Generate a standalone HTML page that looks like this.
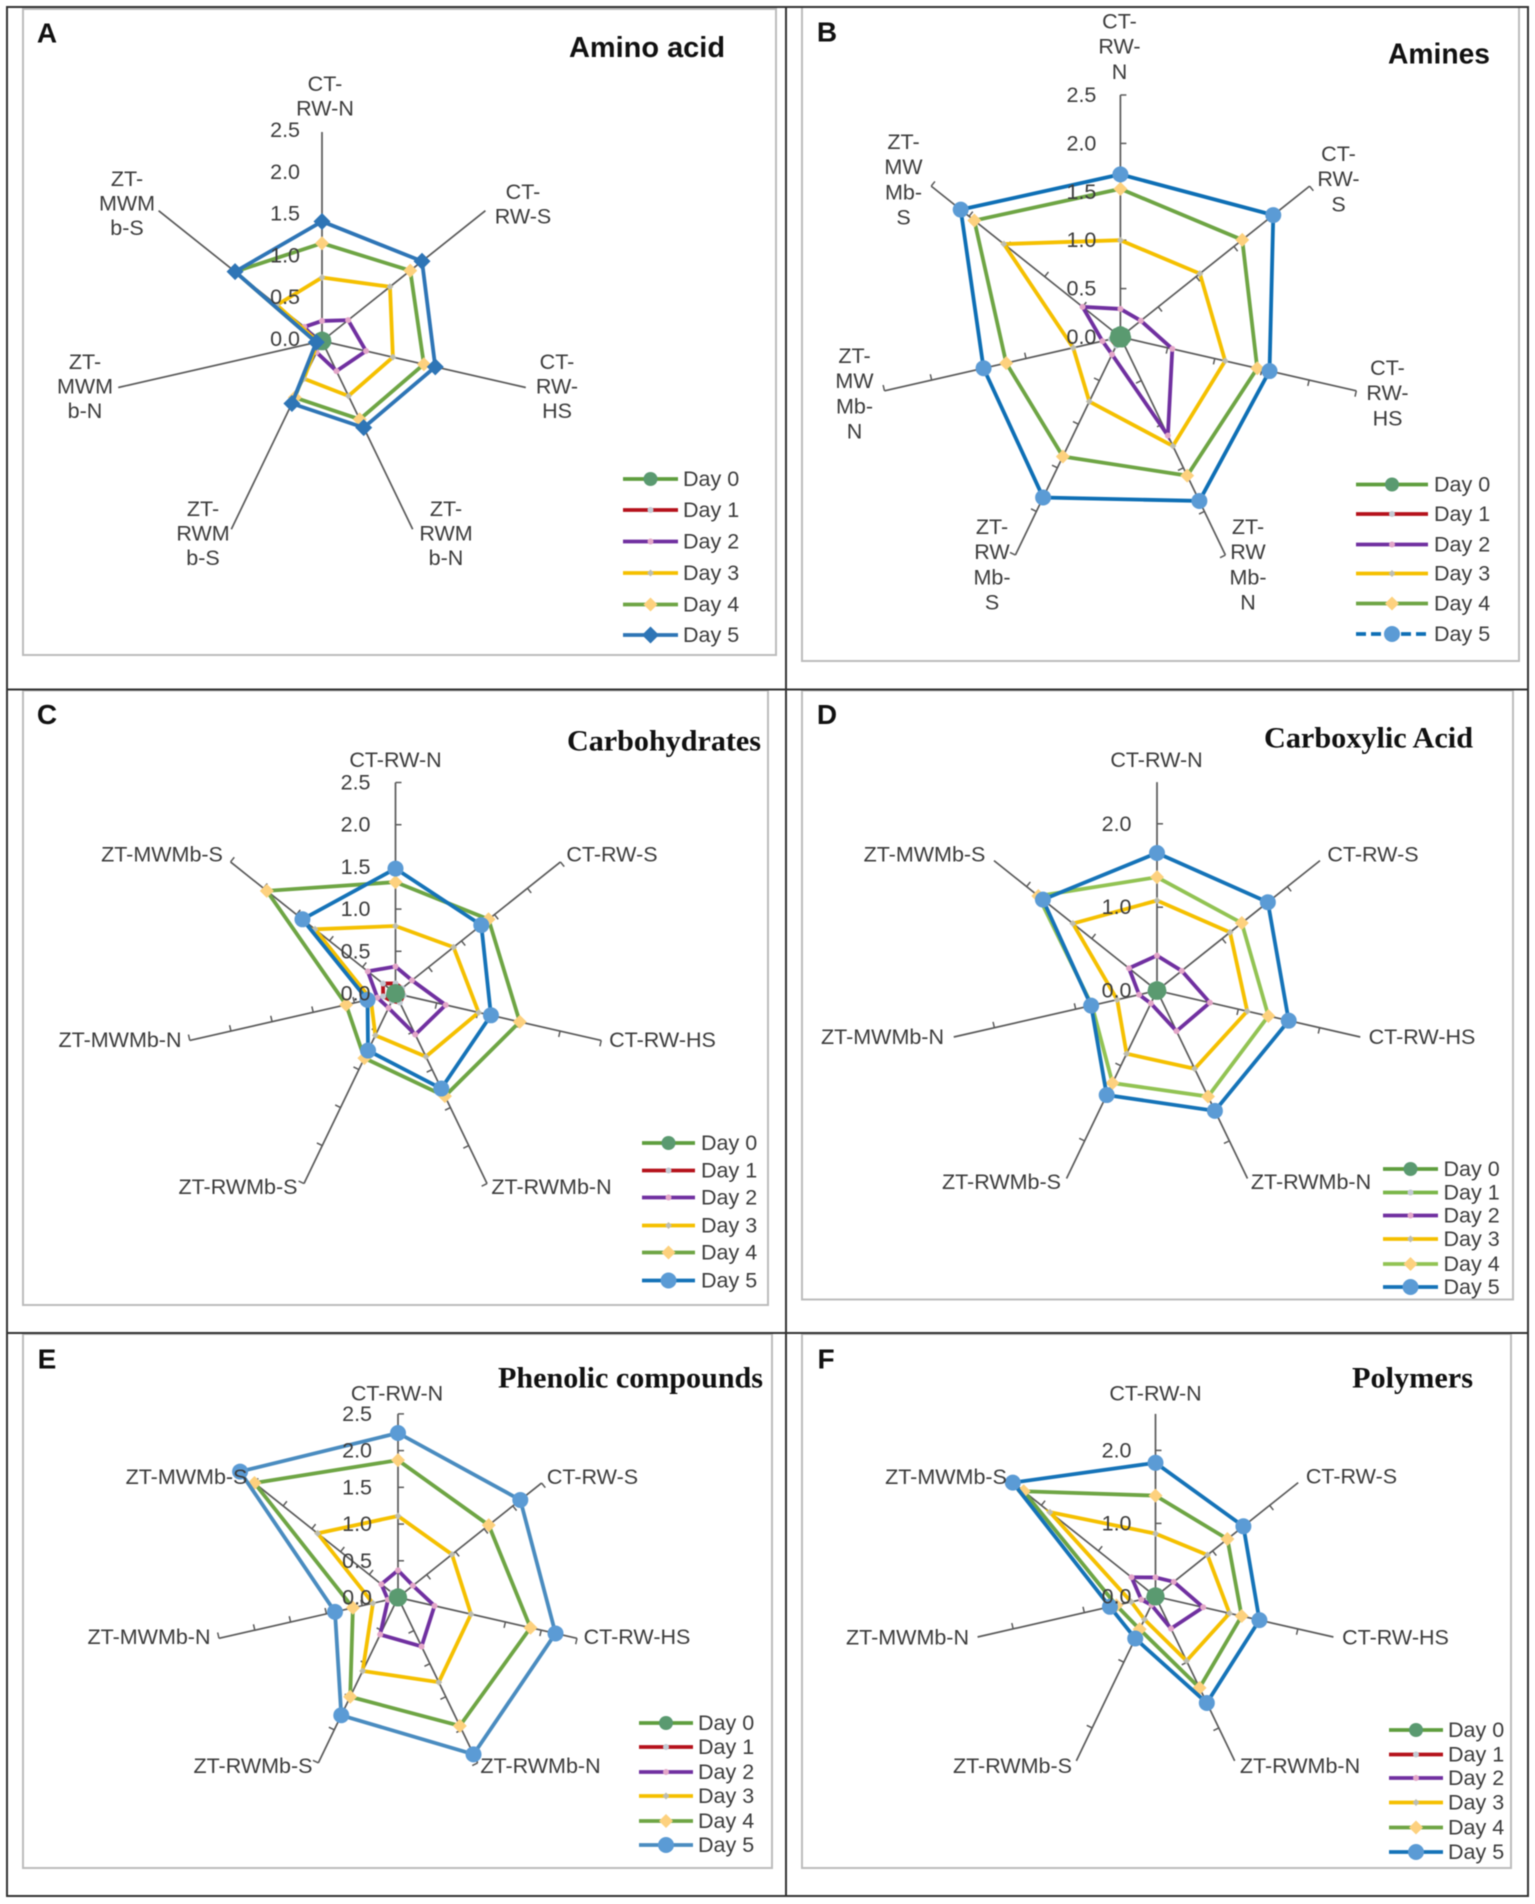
<!DOCTYPE html>
<html lang="en">
<head>
<meta charset="utf-8">
<title>Radar charts of substrate utilisation by guild</title>
<style>
  html, body { margin: 0; padding: 0; background: #fff; }
  #figure { display: block; width: 1535px; height: 1904px; filter: blur(0.45px); }
  text { font-family: "Liberation Sans", Arial, sans-serif; }
</style>
</head>
<body>
<svg id="figure" xmlns="http://www.w3.org/2000/svg" width="1535" height="1904" viewBox="0 0 1535 1904">
  <rect x="0" y="0" width="1535" height="1904" fill="#ffffff"/>
  <g id="panels"></g>
  <g stroke="#333333" stroke-width="2" fill="none">
    <rect x="7" y="7" width="1521" height="1889"/>
    <line x1="786" y1="7" x2="786" y2="1896"/>
    <line x1="7" y1="689.5" x2="1528" y2="689.5"/>
    <line x1="7" y1="1333" x2="1528" y2="1333"/>
  </g>
</svg>
<script>
// ---- shared data ----
const dayNames = ["Day 0", "Day 1", "Day 2", "Day 3", "Day 4", "Day 5"];
const tickLabelsHalf = ["0.0", "0.5", "1.0", "1.5", "2.0", "2.5"];
const tickLabelsWhole = ["0.0", "1.0", "2.0"];
const axisMax = 2.5;

const categoriesA = ["CT-\nRW-N", "CT-\nRW-S", "CT-\nRW-\nHS", "ZT-\nRWM\nb-N", "ZT-\nRWM\nb-S", "ZT-\nMWM\nb-N", "ZT-\nMWM\nb-S"];
const categoriesB = ["CT-\nRW-\nN", "CT-\nRW-\nS", "CT-\nRW-\nHS", "ZT-\nRW\nMb-\nN", "ZT-\nRW\nMb-\nS", "ZT-\nMW\nMb-\nN", "ZT-\nMW\nMb-\nS"];
const categoriesFlat = ["CT-RW-N", "CT-RW-S", "CT-RW-HS", "ZT-RWMb-N", "ZT-RWMb-S", "ZT-MWMb-N", "ZT-MWMb-S"];

// ---- series values, one row per day ----
const aminoAcidValues = [
  [0.03, 0.03, 0.03, 0.03, 0.03, 0.03, 0.03],
  [0.06, 0.06, 0.06, 0.06, 0.06, 0.05, 0.06],
  [0.24, 0.40, 0.54, 0.40, 0.15, 0.05, 0.27],
  [0.76, 1.04, 0.87, 0.73, 0.50, 0.05, 0.69],
  [1.17, 1.35, 1.25, 1.04, 0.75, 0.07, 1.33],
  [1.43, 1.53, 1.39, 1.15, 0.83, 0.07, 1.33]
];
const aminesValues = [
  [0.04, 0.04, 0.04, 0.04, 0.04, 0.04, 0.04],
  [0.05, 0.05, 0.05, 0.05, 0.10, 0.10, 0.05],
  [0.29, 0.27, 0.55, 1.13, 0.20, 0.19, 0.50],
  [1.00, 1.05, 1.11, 1.25, 0.74, 0.50, 1.54],
  [1.53, 1.61, 1.45, 1.59, 1.37, 1.21, 1.93],
  [1.68, 2.02, 1.58, 1.88, 1.84, 1.45, 2.11]
];
const carbohydratesValues = [
  [0.03, 0.03, 0.03, 0.03, 0.03, 0.03, 0.03],
  [0.12, 0.10, 0.10, 0.12, 0.10, 0.15, 0.19],
  [0.32, 0.25, 0.61, 0.54, 0.19, 0.22, 0.42],
  [0.80, 0.88, 1.01, 0.83, 0.55, 0.30, 1.22],
  [1.32, 1.41, 1.51, 1.35, 0.85, 0.60, 1.95],
  [1.48, 1.30, 1.16, 1.25, 0.75, 0.34, 1.41]
];
const carboxylicAcidValues = [
  [0.03, 0.03, 0.03, 0.03, 0.03, 0.03, 0.03],
  [0.08, 0.08, 0.08, 0.07, 0.07, 0.08, 0.08],
  [0.42, 0.38, 0.65, 0.54, 0.17, 0.22, 0.43],
  [1.08, 1.12, 1.11, 1.04, 0.84, 0.49, 1.29],
  [1.36, 1.30, 1.37, 1.41, 1.23, 0.80, 1.82],
  [1.65, 1.70, 1.62, 1.60, 1.39, 0.81, 1.75]
];
const phenolicCompoundsValues = [
  [0.03, 0.03, 0.03, 0.03, 0.03, 0.03, 0.03],
  [0.08, 0.06, 0.06, 0.06, 0.06, 0.08, 0.10],
  [0.37, 0.26, 0.51, 0.74, 0.56, 0.14, 0.29],
  [1.11, 0.94, 1.02, 1.28, 1.11, 0.35, 1.40],
  [1.87, 1.58, 1.85, 1.94, 1.50, 0.63, 2.50],
  [2.24, 2.13, 2.20, 2.37, 1.78, 0.88, 2.75]
];
const polymersValues = [
  [0.03, 0.03, 0.03, 0.03, 0.03, 0.03, 0.03],
  [0.08, 0.06, 0.06, 0.06, 0.08, 0.10, 0.08],
  [0.26, 0.32, 0.67, 0.49, 0.13, 0.20, 0.42],
  [0.86, 0.91, 1.04, 0.98, 0.35, 0.34, 1.85],
  [1.38, 1.26, 1.21, 1.39, 0.50, 0.55, 2.31],
  [1.83, 1.54, 1.46, 1.62, 0.64, 0.64, 2.50]
];

// ---- layout (not data) ----
const panelLayouts = [
  { id: "a", letter: "A", letterAt: [47, 33], title: "Amino acid", serif: false, titleX: 569, titleY: 48, titleW: 156,
    box: [23, 9, 753, 646], cx: 322, cy: 341, radius: 209, ticks: "none", tickNames: tickLabelsHalf, tickOffset: 22, tickDy: -2,
    cats: categoriesA, values: aminoAcidValues, lineH: 24.6,
    labelAt: [[325, 84], [523, 192], [557, 362], [446, 509], [203, 509], [85, 362], [127, 179]],
    legend: { x1: 623, x2: 678, tx: 683, ys: [479, 510, 541.5, 573, 604.5, 635] }, day5Diamond: true, day5Color: "#2e75b6" },
  { id: "b", letter: "B", letterAt: [827, 32], title: "Amines", serif: false, titleX: 1388, titleY: 54.5, titleW: 102,
    box: [802, 7, 717, 654], cx: 1120.4, cy: 337, radius: 242, ticks: "half", tickNames: tickLabelsHalf, tickOffset: 24, tickDy: 0,
    cats: categoriesB, values: aminesValues, lineH: 25.2,
    labelAt: [[1119.5, 21.5], [1338.5, 154], [1387.5, 368], [1248, 527], [992, 527], [854.5, 356], [903.5, 142]],
    legend: { x1: 1356, x2: 1428, tx: 1434, ys: [484.5, 514, 544.5, 573.5, 603.5, 634] }, day5Dashed: true, day5Color: "#0e6fb5" },
  { id: "c", letter: "C", letterAt: [47, 714.5], title: "Carbohydrates", serif: true, titleX: 567, titleY: 741, titleW: 194,
    box: [23, 690.5, 745, 614.5], cx: 395.5, cy: 993.5, radius: 211, ticks: "half", tickNames: tickLabelsHalf, tickOffset: 25, tickDy: 0,
    cats: categoriesFlat, values: carbohydratesValues, lineH: 25,
    labelAt: [[395.5, 760], [612, 854.5], [662.5, 1040], [551.5, 1187], [238, 1187], [120, 1040], [162, 854.5]],
    legend: { x1: 642, x2: 695, tx: 701, ys: [1143, 1170.5, 1197.5, 1225.5, 1252.5, 1280.5] }, day5Color: "#1573b8" },
  { id: "d", letter: "D", letterAt: [827, 714.5], title: "Carboxylic Acid", serif: true, titleX: 1264, titleY: 738, titleW: 209,
    box: [802, 690.5, 711, 609], cx: 1157, cy: 990.6, radius: 208.5, ticks: "whole", tickNames: tickLabelsWhole, tickOffset: 25.5, tickDy: 0,
    cats: categoriesFlat, values: carboxylicAcidValues, lineH: 25,
    labelAt: [[1156.5, 760], [1373, 854.5], [1422, 1037], [1311, 1182], [1001.5, 1182], [882.5, 1037], [924.5, 854.5]],
    legend: { x1: 1383, x2: 1438, tx: 1443.5, ys: [1169, 1192.5, 1215.5, 1239, 1264, 1287] }, day5Color: "#1573b8", day4Color: "#92c353", day1Color: "#7ab648" },
  { id: "e", letter: "E", letterAt: [47, 1359], title: "Phenolic compounds", serif: true, titleX: 498, titleY: 1378, titleW: 265,
    box: [23, 1334, 749, 534], cx: 398, cy: 1597.5, radius: 183.6, ticks: "half", tickNames: tickLabelsHalf, tickOffset: 26, tickDy: 0,
    cats: categoriesFlat, values: phenolicCompoundsValues, lineH: 25,
    labelAt: [[397, 1393.5], [592.5, 1477], [637, 1637], [540.5, 1766], [253, 1766], [149, 1637], [186.5, 1477]],
    legend: { x1: 639, x2: 693, tx: 698, ys: [1723, 1747, 1772, 1796, 1821, 1845] }, day5Color: "#4a8cc0" },
  { id: "f", letter: "F", letterAt: [826, 1359], title: "Polymers", serif: true, titleX: 1352, titleY: 1378, titleW: 121,
    box: [802, 1334, 709, 534], cx: 1155.5, cy: 1596.4, radius: 182.5, ticks: "whole", tickNames: tickLabelsWhole, tickOffset: 24, tickDy: 0,
    cats: categoriesFlat, values: polymersValues, lineH: 25,
    labelAt: [[1155.5, 1393.5], [1351.5, 1476.5], [1395.5, 1637.5], [1300, 1766], [1012.5, 1766], [907.5, 1637.5], [946, 1477]],
    legend: { x1: 1389, x2: 1443, tx: 1448, ys: [1730, 1754.5, 1778, 1802.5, 1827.5, 1852] }, day5Color: "#1573b8" }
];

const SVG_NS = "http://www.w3.org/2000/svg";
const TEXT_COLOR = "#3c3c3c";
const AXIS_COLOR = "#5a5a5a";
const LABEL_SIZE = 21.5;
const DRAW_ORDER = [1, 2, 3, 0, 4, 5];

function make(tag, parent, attrs) {
  const el = document.createElementNS(SVG_NS, tag);
  for (const key in attrs) el.setAttribute(key, attrs[key]);
  parent.appendChild(el);
  return el;
}
// axis functions
function angleFor(index, count) { return index * 2 * Math.PI / count; }
function radiusFor(layout, value) { return value / axisMax * layout.radius; }
function pointFor(layout, index, count, value) {
  const a = angleFor(index, count);
  const r = radiusFor(layout, value);
  return [layout.cx + r * Math.sin(a), layout.cy - r * Math.cos(a)];
}
function styleFor(layout, day) {
  const lineColors = ["#5f9e3e", layout.day1Color || "#b5121b", "#7030a0", "#f5c000", layout.day4Color || "#6ea544", layout.day5Color];
  const markerColors = ["#5a9a70", "#c2c9d2", "#e3a6c8", "#bdbdb0", "#fdd17e", "#5b9bd5"];
  const markerSizes = [7, 3, 3, 3.5, 7, 8];
  return { line: lineColors[day], marker: markerColors[day], size: markerSizes[day] };
}
function drawMarker(parent, layout, day, x, y, style) {
  let el;
  if (day === 5 && layout.day5Diamond) {
    const s = style.size + 0.5;
    el = make("polygon", parent, { points: (x - s) + "," + y + " " + x + "," + (y - s) + " " + (x + s) + "," + y + " " + x + "," + (y + s), fill: layout.day5Color });
  } else if (day === 4 || day === 3) {
    const s = style.size;
    el = make("polygon", parent, { points: (x - s) + "," + y + " " + x + "," + (y - s) + " " + (x + s) + "," + y + " " + x + "," + (y + s), fill: style.marker });
  } else {
    el = make("circle", parent, { cx: x, cy: y, r: style.size, fill: style.marker });
  }
  return el;
}

function drawPanel(layout) {
  const root = document.getElementById("panels");
  const g = make("g", root, {});
  
  

  const box = make("rect", g, { x: layout.box[0], y: layout.box[1], width: layout.box[2], height: layout.box[3], fill: "#fff", stroke: "#bcbcbc", "stroke-width": 2 });
  
  

  const letter = make("text", g, { x: layout.letterAt[0], y: layout.letterAt[1], "text-anchor": "middle", "dominant-baseline": "central", "font-size": 28, "font-weight": "bold", fill: "#111" });
  letter.textContent = layout.letter;
  
  

  const title = make("text", g, { x: layout.titleX, y: layout.titleY, "dominant-baseline": "central", "font-size": layout.serif ? 30 : 28.5, "font-weight": "bold", fill: "#111", textLength: layout.titleW, lengthAdjust: "spacingAndGlyphs" });
  if (layout.serif) title.style.fontFamily = '"Liberation Serif", "Times New Roman", serif';
  title.textContent = layout.title;
  
  

  const count = layout.cats.length;

  // axes + tick marks
  const step = layout.ticks === "whole" ? 1 : 0.5;
  for (let i = 0; i < count; i++) {
    const end = pointFor(layout, i, count, axisMax);
    const axis = make("line", g, { x1: layout.cx, y1: layout.cy, x2: end[0], y2: end[1], stroke: AXIS_COLOR, "stroke-width": 1.7 });
    
    
    if (layout.ticks !== "none") {
      const a = angleFor(i, count);
      for (let v = step; v <= axisMax; v += step) {
        const p = pointFor(layout, i, count, v);
        const tick = make("line", g, { x1: p[0], y1: p[1], x2: p[0] + 6 * Math.cos(a), y2: p[1] + 6 * Math.sin(a), stroke: AXIS_COLOR, "stroke-width": 1.5 });
        
        
      }
    }
  }

  // series
  DRAW_ORDER.forEach(function (day) {
    const row = layout.values[day];
    const st = styleFor(layout, day);
    const pts = row.map(function (v, i) { return pointFor(layout, i, count, v); });
    const series = make("g", g, {});
    
    
    const poly = make("polygon", series, { points: pts.map(function (p) { return p.join(","); }).join(" "), fill: "none", stroke: st.line, "stroke-width": 3.8, "stroke-linejoin": "miter" });
    
    
    pts.forEach(function (p) {
      const m = drawMarker(series, layout, day, p[0], p[1], st);
      
      
    });
  });

  // radial tick labels (above the series, as in the source chart)
  layout.tickNames.forEach(function (name) {
    const p = pointFor(layout, 0, count, parseFloat(name));
    const t = make("text", g, { x: layout.cx - layout.tickOffset, y: p[1] + layout.tickDy, "text-anchor": "end", "dominant-baseline": "central", "font-size": LABEL_SIZE, fill: TEXT_COLOR });
    t.textContent = name;
    
    
  });

  // category labels
  layout.cats.forEach(function (cat, i) {
    const t = make("text", g, { "text-anchor": "middle", "font-size": LABEL_SIZE, fill: TEXT_COLOR });
    
    
    cat.split("\n").forEach(function (part, k) {
      const span = make("tspan", t, { x: layout.labelAt[i][0], y: layout.labelAt[i][1] + k * layout.lineH, "dominant-baseline": "central" });
      span.textContent = part;
    });
  });

  // legend
  const lg = make("g", g, {});
  
  
  dayNames.forEach(function (name, day) {
    const st = styleFor(layout, day);
    const y = layout.legend.ys[day];
    const entry = make("g", lg, {});
    
    
    const line = make("line", entry, { x1: layout.legend.x1, y1: y, x2: layout.legend.x2, y2: y, stroke: st.line, "stroke-width": 3.8 });
    if (day === 5 && layout.day5Dashed) line.setAttribute("stroke-dasharray", "10 5");
    drawMarker(entry, layout, day, (layout.legend.x1 + layout.legend.x2) / 2, y, st);
    const t = make("text", entry, { x: layout.legend.tx, y: y, "dominant-baseline": "central", "font-size": LABEL_SIZE, fill: TEXT_COLOR });
    t.textContent = name;
  });
}

panelLayouts.forEach(drawPanel);
</script>
</body>
</html>
